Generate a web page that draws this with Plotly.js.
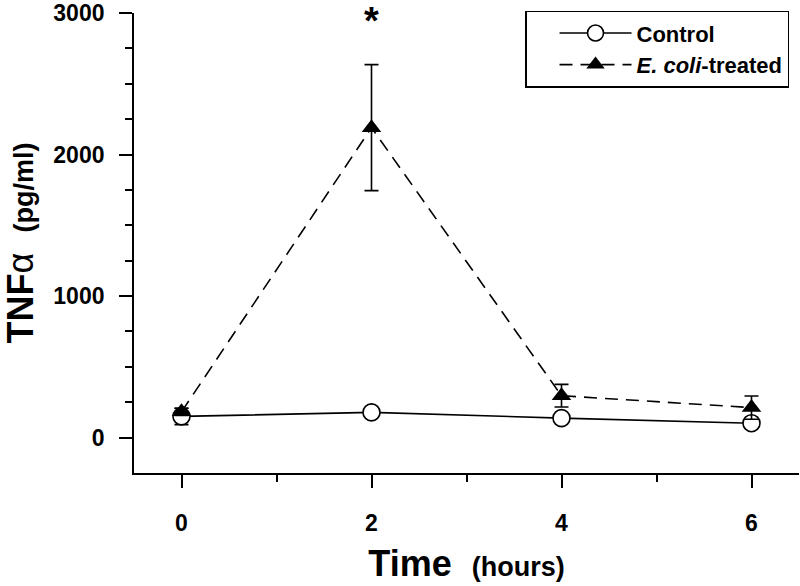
<!DOCTYPE html>
<html>
<head>
<meta charset="utf-8">
<script src="https://cdn.plot.ly/plotly-3.0.1.min.js"></script>
<style>
    body { margin: 0; background: #ffffff; }
    #chart { width: 800px; height: 586px; }
</style>
</head>
<body>
<div id="chart"></div>
<script>
// time points (hours)
var hours = [0, 2, 4, 6];

// TNF-alpha, pg/ml
var controlMean = [150, 178, 138, 102];
var controlErr = [58, 20, 20, 30];
var treatedMean = [182, 2190, 296, 212];
var treatedErr = [25, 445, 80, 82];

var seriesNames = ['Control', '<i>E. coli</i>-treated'];
var xTicks = [0, 2, 4, 6];
var xMinorTicks = [1, 3, 5];
var yTicks = [0, 1000, 2000, 3000];
var yMinorTicks = [250, 500, 750, 1250, 1500, 1750, 2250, 2500, 2750];

var FONT = 'Liberation Sans, Arial, sans-serif';

var traces = [
    {
        x: hours,
        y: controlMean,
        name: seriesNames[0],
        mode: 'lines+markers',
        line: {color: '#000', width: 1.6},
        marker: {symbol: 'circle', size: 17, color: '#fff', line: {color: '#000', width: 1.6}},
        error_y: {type: 'data', array: controlErr, visible: true, color: '#000', thickness: 1.6, width: 7}
    },
    {
        x: hours,
        y: treatedMean,
        name: seriesNames[1],
        mode: 'lines+markers',
        line: {color: '#000', width: 1.6, dash: '13px,8px'},
        marker: {symbol: 'triangle-up', size: 17, color: '#000', line: {color: '#000', width: 0}},
        error_y: {type: 'data', array: treatedErr, visible: true, color: '#000', thickness: 1.6, width: 7}
    }
];

var layout = {
    width: 800,
    height: 586,
    margin: {l: 134, r: 1, t: 13, b: 113},
    paper_bgcolor: '#fff',
    plot_bgcolor: '#fff',
    font: {family: FONT, color: '#000'},
    showlegend: true,
    legend: {
        x: 0.985,
        y: 1.005,
        xanchor: 'right',
        yanchor: 'top',
        bgcolor: '#fff',
        bordercolor: '#000',
        borderwidth: 1.5,
        font: {family: FONT, size: 22, weight: 'bold', color: '#000'},
        indentation: 28,
        itemwidth: 72
    },
    xaxis: {
        range: [-0.5, 6.5],
        tickvals: xTicks,
        ticks: 'outside',
        ticklen: 13,
        tickwidth: 1.6,
        tickcolor: '#000',
        showline: true,
        linecolor: '#000',
        linewidth: 1.8,
        showgrid: false,
        zeroline: false,
        ticklabelstandoff: 15,
        tickfont: {family: FONT, size: 23, weight: 'bold'},
        minor: {tickvals: xMinorTicks, ticks: 'outside', ticklen: 7, tickwidth: 1.6, tickcolor: '#000', showgrid: false},
        title: {
            text: '<b>Time</b>  <span style="font-size:27px"><b>(hours)</b></span>',
            font: {family: FONT, size: 36, color: '#000'},
            standoff: 16
        }
    },
    yaxis: {
        range: [-250, 3000],
        tickvals: yTicks,
        ticks: 'outside',
        ticklen: 13,
        tickwidth: 1.6,
        tickcolor: '#000',
        showline: true,
        linecolor: '#000',
        linewidth: 1.8,
        showgrid: false,
        zeroline: false,
        ticklabelstandoff: 10,
        ticklabeloverflow: 'allow',
        tickfont: {family: FONT, size: 23, weight: 'bold'},
        minor: {tickvals: yMinorTicks, ticks: 'outside', ticklen: 7, tickwidth: 1.6, tickcolor: '#000', showgrid: false},
        title: {
            text: '<b>TNF</b>α  <span style="font-size:27px"><b>(pg/ml)</b></span>',
            font: {family: FONT, size: 36, color: '#000'},
            standoff: 22
        }
    },
    annotations: [
        {
            x: hours[1],
            y: 2940,
            xref: 'x',
            yref: 'y',
            text: '<b>*</b>',
            showarrow: false,
            font: {family: FONT, size: 38, color: '#000'}
        }
    ]
};

Plotly.newPlot('chart', traces, layout, {displayModeBar: false, responsive: false});
</script>
</body>
</html>
